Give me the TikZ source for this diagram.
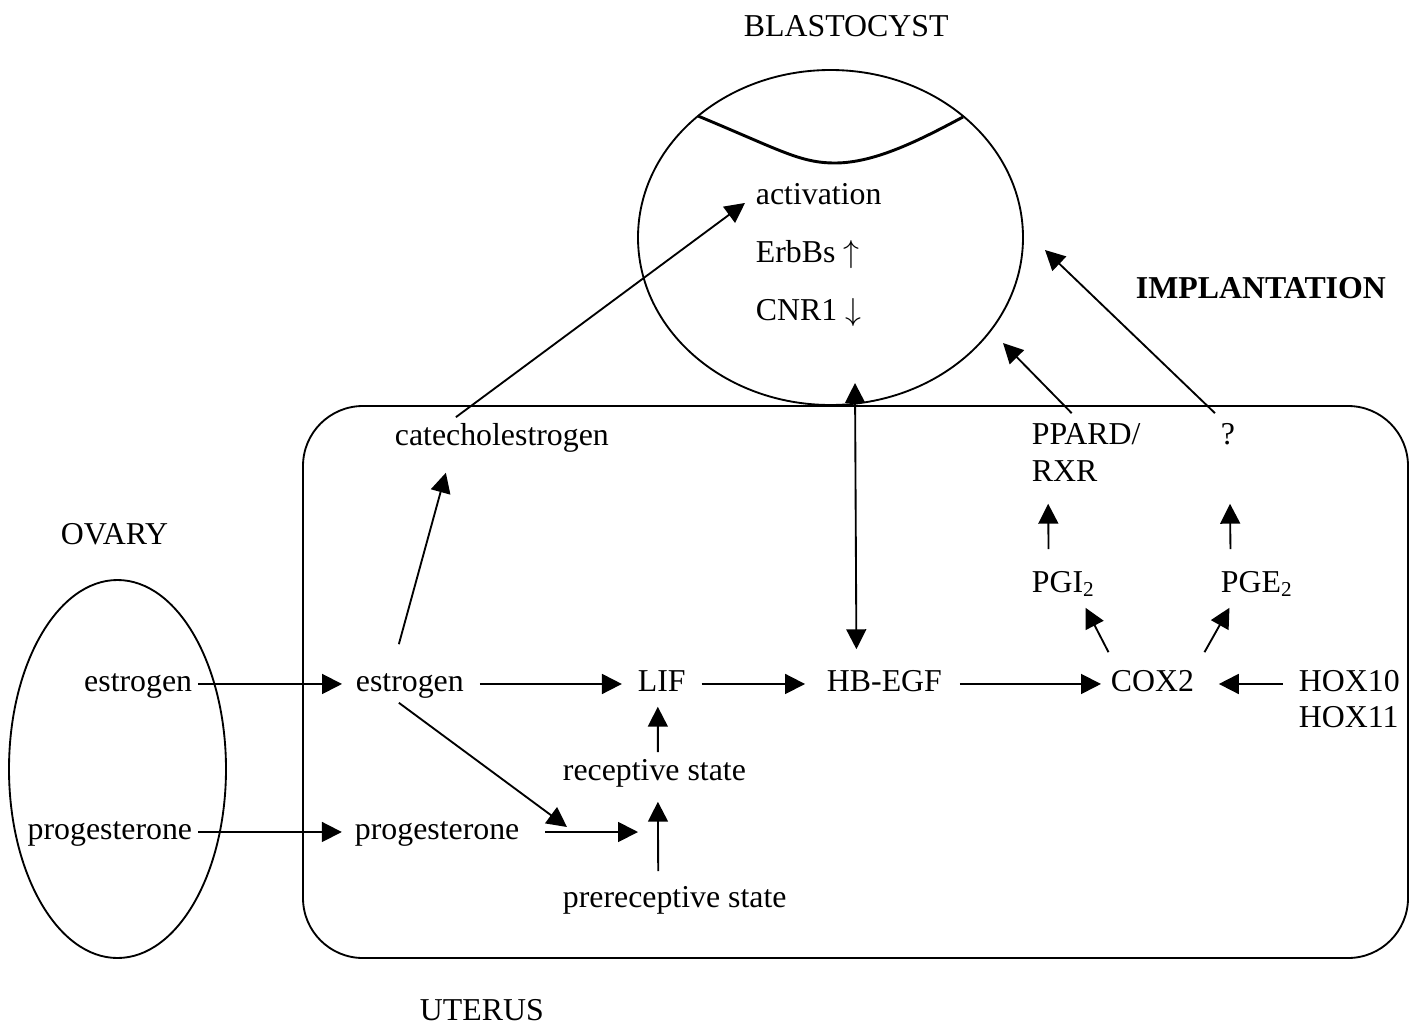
\documentclass[tikz,border=0pt]{standalone}
\usepackage{fontspec}
\setmainfont{Liberation Serif}
\usetikzlibrary{positioning,arrows.meta,calc}
\tikzstyle{signal} = [line width=0.7pt,-{Triangle[length=7.5pt,width=7.5pt]}]
\tikzstyle{mutual} = [line width=0.7pt,{Triangle[length=7.5pt,width=7.5pt]}-{Triangle[length=7.5pt,width=7.5pt]}]

\begin{document}
\begin{tikzpicture}[x=0.377pt,y=-0.377pt,line width=0.7pt,
  font=\fontsize{12}{14.4}\selectfont,
  lbl/.style={inner sep=0pt,anchor=base west,text height=7.5pt,text depth=2.2pt},
  lblr/.style={lbl,anchor=base east}]

\useasboundingbox (0,0) rectangle (1415,1023);

 % compartments
 \draw (830.5,237.5) ellipse [x radius=192.5, y radius=167.5];
 \draw[line width=1.1pt] (698,116) .. controls (780,150) and (800,163) .. (835,163) .. controls (875,163) and (920,140) .. (963,117);
 \draw[rounded corners=22.6pt] (303,406) rectangle (1408,958);
 \draw (117.5,769) ellipse [x radius=108.5, y radius=189];

 % titles
 \node[lbl] (blast) at (743,36) {BLASTOCYST};
 \node[lbl] (impl) at (1135,298) {\textbf{IMPLANTATION}};
 \node[lbl] (ovary) at (60,544) {OVARY};
 \node[lbl] (uterus) at (419,1020) {UTERUS};

 % blastocyst
 \node[lbl] (act) at (755,204) {activation};
 \node[lbl] (erbb) at (755,262) {ErbBs $\uparrow$};
 \node[lbl] (cnr) at (755,320) {CNR1 $\downarrow$};

 % ovary
 \node[lblr] (estO) at (193,691) {estrogen};
 \node[lblr] (progO) at (193,839) {progesterone};

 % uterus
 \node[lbl] (cat) at (394,445) {catecholestrogen};
 \node[lbl] (ppard) at (1031,444) {PPARD/};
 \node[lbl] (rxr) at (1031,481) {RXR};
 \node[lbl] (q) at (1220,444) {?};
 \node[lbl] (pgi) at (1031,592) {PGI\textsubscript{2}};
 \node[lbl] (pge) at (1220,592) {PGE\textsubscript{2}};
 \node[lbl] (estU) at (355,691) {estrogen};
 \node[lbl] (lif) at (637,691) {LIF};
 \node[lbl] (hbegf) at (826,691) {HB-EGF};
 \node[lbl] (cox) at (1110,691) {COX2};
 \node[lbl] (hox10) at (1298,691) {HOX10};
 \node[lbl] (hox11) at (1298,727) {HOX11};
 \node[lbl] (rec) at (562,780) {receptive state};
 \node[lbl] (progU) at (354,839) {progesterone};
 \node[lbl] (prerec) at (562,907) {prereceptive state};

 % free ends
 \coordinate (blastIn) at (855,383);
 \coordinate (blastPp) at (1003,343);
 \coordinate (blastQ) at (1045,250);
 \coordinate (recIn) at (638,832);
 \coordinate (recIn2) at (567,827);

 % ovary -> uterus
 \draw[signal, shorten <=1.9pt, shorten >=4.9pt] (estO.east) -- (estU.west);
 \draw[signal, shorten <=1.9pt, shorten >=4.6pt] (progO.east) -- (progU.west);

 % main row
 \draw[signal, shorten <=5.7pt, shorten >=5.7pt] (estU.east) -- (lif.west);
 \draw[signal, shorten <=5.7pt, shorten >=7.9pt] (lif.east) -- (hbegf.west);
 \draw[signal, shorten <=6.4pt, shorten >=3.4pt] (hbegf.east) -- (cox.west);
 \draw[signal, shorten <=5.7pt, shorten >=9pt] (hox10.west) -- (cox.east);

 % to the blastocyst
 \draw[signal] ([shift={(-11,-26)}]estU.north) -- ([shift={(-56,21)}]cat.south);
 \draw[signal] ([shift={(-46,-7)}]cat.north) -- ([shift={(-10,6)}]act.west);
 \draw[mutual] ([shift={(-28,-21)}]hbegf.north) -- (blastIn);
 \draw[signal] ([shift={(-14.5,-10)}]ppard.north) -- (blastPp);
 \draw[signal] ([shift={(-13,-10)}]q.north) -- (blastQ);

 % prostaglandins
 \draw[signal] ([shift={(-44,-18)}]cox.north) -- ([shift={(22,9)}]pgi.south);
 \draw[signal] ([shift={(52,-18)}]cox.north) -- ([shift={(-27.5,9)}]pge.south);
 \draw[signal] ([shift={(-15,-22)}]pgi.north) -- ([shift={(-16.5,16)}]rxr.south);
 \draw[signal] ([shift={(-26.5,-22)}]pge.north) -- ([shift={(2,53)}]q.south);

 % receptivity
 \draw[signal] ([shift={(3.5,-7)}]rec.north) -- ([shift={(-4,9)}]lif.south);
 \draw[signal] ([shift={(-16.5,-15)}]prerec.north) -- ([shift={(3.5,15)}]rec.south);
 \draw[signal, shorten <=9.4pt] (progU.east) -- (recIn);
 \draw[signal] ([shift={(-11,5)}]estU.south) -- (recIn2);
\end{tikzpicture}
\end{document}
